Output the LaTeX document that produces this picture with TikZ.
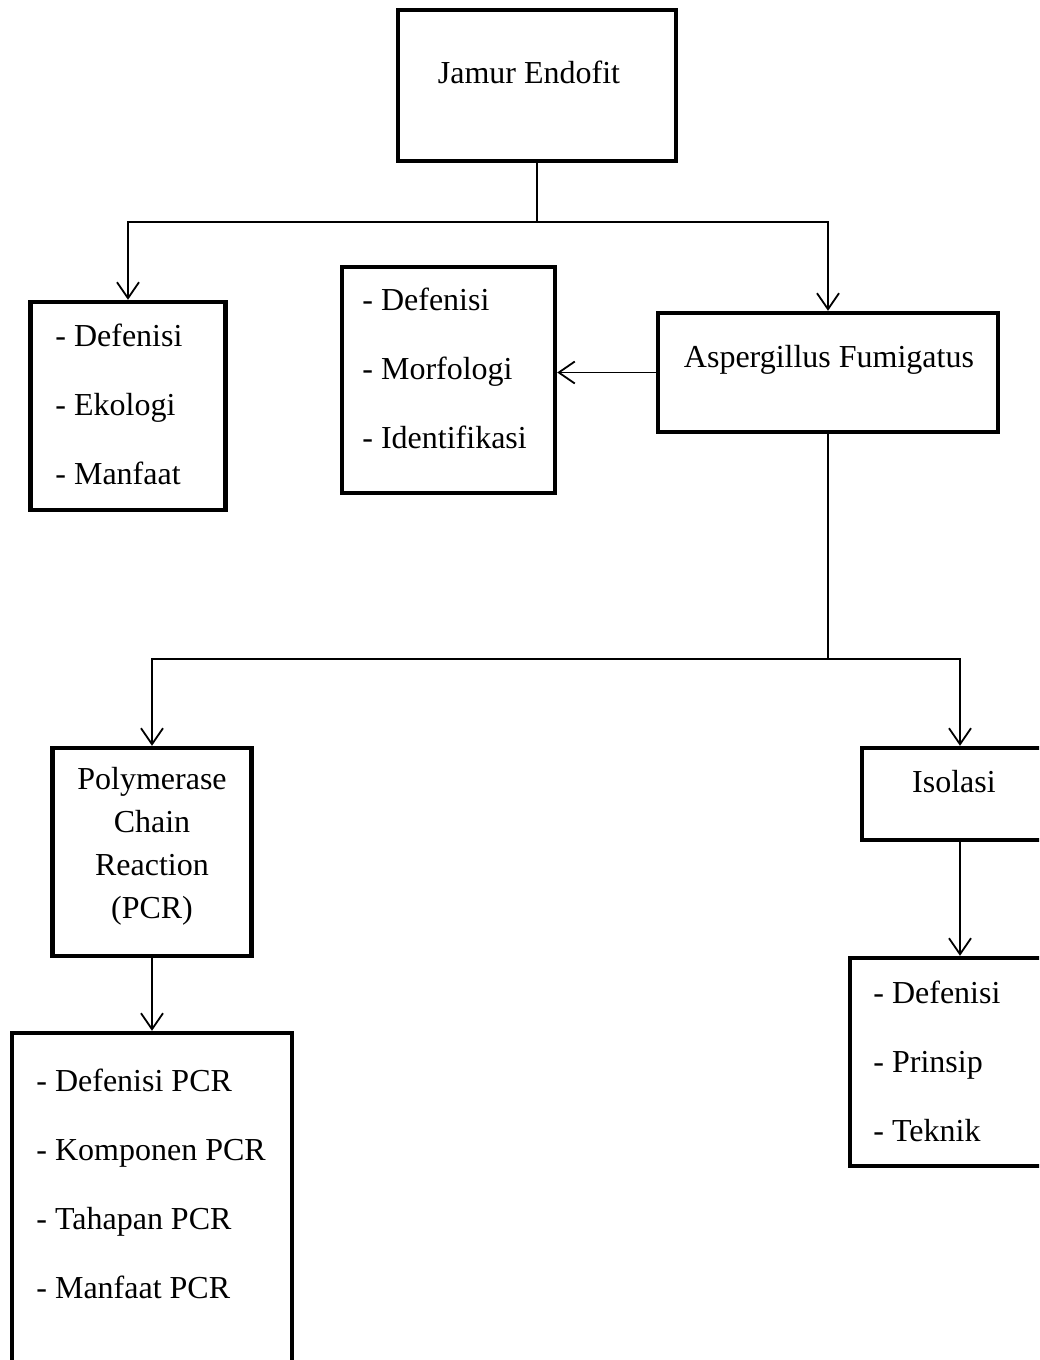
\documentclass[tikz,border=0pt]{standalone}
\usepackage{fontspec}
\setmainfont{Liberation Serif}
\usetikzlibrary{arrows.meta, positioning}

\begin{document}
\begin{tikzpicture}[
  x=0.5pt, y=-0.5pt,
  box/.style={rectangle, draw, line width=2.2pt, inner sep=0pt},
  txt/.style={inner sep=0pt, font=\fontsize{16}{21.5}\selectfont},
  lst/.style={txt, anchor=west, align=left, font=\fontsize{16}{34.5}\selectfont},
  arr/.style={-{Straight Barb[length=8pt, width=11pt]}, line width=0.9pt},
  ln/.style={line width=0.9pt}
]
\clip (0,0) rectangle (1039,1360);
% boxes
\node[box, minimum width=139pt, minimum height=75.5pt]  (J)  at (537,85.5)  {};
\node[box, minimum width=97.5pt, minimum height=104pt]  (L1) at (128,406)   {};
\node[box, minimum width=106.5pt, minimum height=113pt] (M)  at (448.5,380) {};
\node[box, minimum width=170pt, minimum height=59.5pt]  (A)  at (828,372.5) {};
\node[box, minimum width=99.5pt, minimum height=104pt]  (P)  at (152,852)   {};
\node[box, minimum width=98pt, minimum height=46pt]     (I)  at (960,794)   {};
\node[box, minimum width=140pt, minimum height=175pt]   (PL) at (152,1208)  {};
\node[box, minimum width=110pt, minimum height=104pt]   (IL) at (960,1062)  {};
% texts
\node[txt] (tJ) at (529,72)  {Jamur Endofit};
\node[txt] (tA) at (829,360) {Aspergillus Fumigatus};
\node[txt] (tI) at (954,782) {Isolasi};
\node[txt, align=center] (tP) at (152,846) {Polymerase\\Chain\\Reaction\\(PCR)};
\node[lst] (tL1) at (55,404)  {- Defenisi\\- Ekologi\\- Manfaat};
\node[lst] (tM)  at (362,368) {- Defenisi\\- Morfologi\\- Identifikasi};
\node[lst] (tPL) at (36,1184) {- Defenisi PCR\\- Komponen PCR\\- Tahapan PCR\\- Manfaat PCR};
\node[lst] (tIL) at (873,1061) {- Defenisi\\- Prinsip\\- Teknik};
% connectors
\coordinate (j1) at (537,222);
\coordinate (j2) at (828,659);
\draw[ln] (J) -- (j1);
\draw[arr] (j1) -| (L1);
\draw[arr] (j1) -| (A);
\draw[arr] (A.west) -- (A.west -| M.east);
\draw[ln] (A) -- (j2);
\draw[arr] (j2) -| (P);
\draw[arr] (j2) -| (I);
\draw[arr] (P) -- (PL);
\draw[arr] (I) -- (IL);
\end{tikzpicture}
\end{document}
